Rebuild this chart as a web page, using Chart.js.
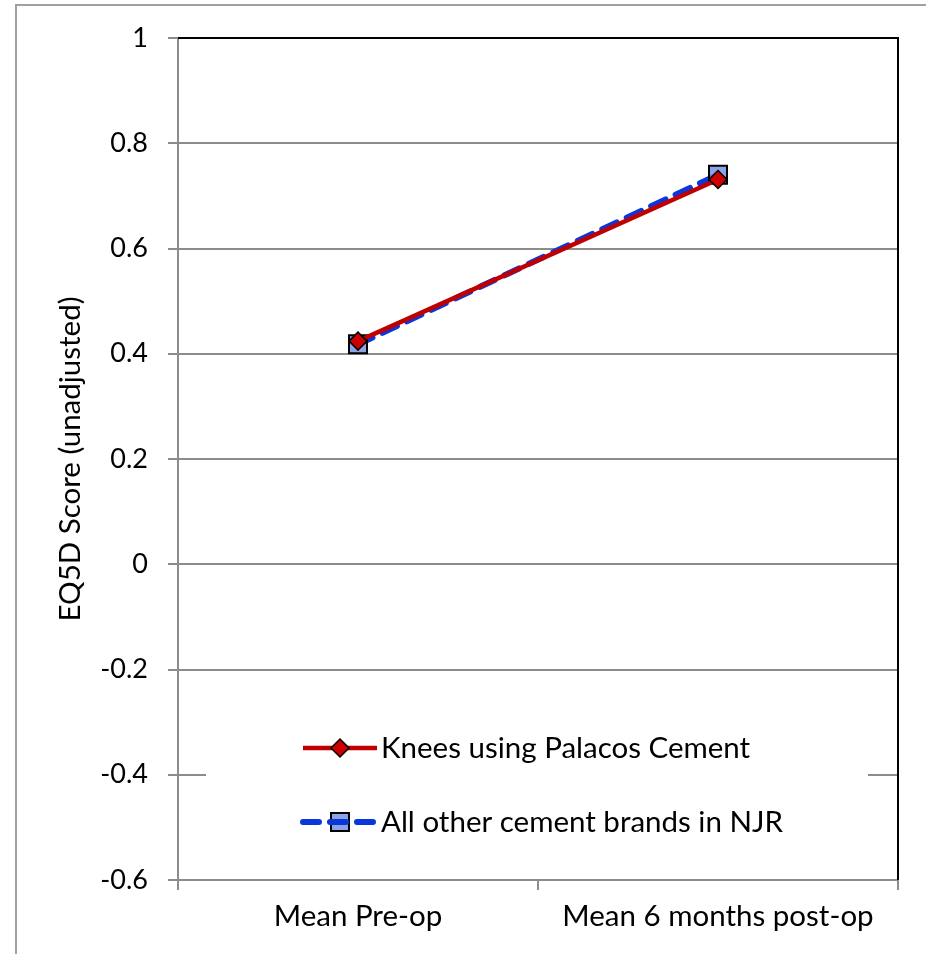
<!DOCTYPE html>
<html>
<head>
<meta charset="utf-8">
<script src="https://cdn.jsdelivr.net/npm/chart.js@4.4.1/dist/chart.umd.min.js"></script>
<style>
  html, body { margin: 0; padding: 0; background: #fff; }
  #wrap { width: 926px; height: 954px; }
</style>
</head>
<body>
<div id="wrap"><canvas id="chart" width="926" height="954"></canvas></div>
<script>
// chart data
const categories = ["Mean Pre-op", "Mean 6 months post-op"];
const palacosScores = [0.424, 0.731];
const otherScores = [0.418, 0.740];
const seriesNames = ["Knees using Palacos Cement", "All other cement brands in NJR"];
const yTicks = [-0.6, -0.4, -0.2, 0, 0.2, 0.4, 0.6, 0.8, 1];

const FONT = "Lato, sans-serif";
const FS = 29.5;   // labels, legend, title
const TICK_FS = 27; // numeric tick labels

// ============================
// frame + plot border
// ============================
const framePlugin = {
  id: "frame",
  beforeDraw(chart) {
    const ctx = chart.ctx;
    ctx.save();
    ctx.strokeStyle = "#a0a0a0";
    ctx.lineWidth = 2;
    ctx.strokeRect(16, 5, 1000, 1000);
    ctx.restore();
  },
  afterDatasetsDraw(chart) {
    const ctx = chart.ctx;
    const a = chart.chartArea;
    ctx.save();
    ctx.strokeStyle = "#000";
    ctx.lineWidth = 2;
    ctx.beginPath();
    ctx.moveTo(a.left, a.top);
    ctx.lineTo(a.right, a.top);
    ctx.lineTo(a.right, a.bottom);
    ctx.stroke();
    ctx.restore();
  }
};

// marker path helper for the legend
function markerPath(ctx, ds, cx, y) {
  ctx.beginPath();
  if (ds.pointStyle === "rectRot") {
    const r = ds.pointRadius;
    ctx.moveTo(cx - r, y);
    ctx.lineTo(cx, y - r);
    ctx.lineTo(cx + r, y);
    ctx.lineTo(cx, y + r);
    ctx.closePath();
  } else {
    const s = Math.SQRT1_2 * ds.pointRadius;
    ctx.rect(cx - s, y - s, 2 * s, 2 * s);
  }
}

// ============================
// legend inside plot
// ============================
const insideLegend = {
  id: "insideLegend",
  afterDatasetsDraw(chart) {
    const ctx = chart.ctx;
    ctx.save();
    ctx.fillStyle = "#fff";
    ctx.fillRect(206, 705, 662, 150);
    const x0 = 303, rows = [748, 822];
    chart.data.datasets.forEach((ds, i) => {
      const y = rows[i];
      const cx = x0 + 37;
      const diamond = ds.pointStyle === "rectRot";

      const drawMarker = () => {
        ctx.save();
        ctx.fillStyle = ds.pointBackgroundColor;
        ctx.strokeStyle = ds.pointBorderColor;
        ctx.lineWidth = ds.pointBorderWidth;
        markerPath(ctx, ds, cx, y);
        ctx.fill();
        ctx.stroke();
        ctx.restore();
      };

      // square sits under its dashed line, diamond on top of its line
      if (!diamond) drawMarker();

      ctx.save();
      ctx.strokeStyle = ds.borderColor;
      ctx.lineWidth = ds.borderWidth;
      ctx.lineCap = ds.borderDash ? "round" : "butt";
      ctx.setLineDash(ds.borderDash || []);
      ctx.beginPath();
      ctx.moveTo(x0, y);
      ctx.lineTo(x0 + 74, y);
      ctx.stroke();
      ctx.restore();

      if (diamond) drawMarker();

      ctx.fillStyle = "#000";
      ctx.font = FS + "px " + FONT;
      ctx.textBaseline = "middle";
      ctx.fillText(ds.label, x0 + 78, y);
    });
    ctx.restore();
  }
};

new Chart(document.getElementById("chart"), {
  type: "line",
  data: {
    labels: categories,
    datasets: [
      {
        label: seriesNames[0],
        data: palacosScores,
        borderColor: "#c00000",
        borderWidth: 4.5,
        pointStyle: "rectRot",
        pointRadius: 9,
        pointBackgroundColor: "#cc0000",
        pointBorderColor: "#000",
        pointBorderWidth: 1.5,
        tension: 0
      },
      {
        label: seriesNames[1],
        data: otherScores,
        borderColor: "#0a37dc",
        borderWidth: 6,
        borderDash: [16, 11],
        borderCapStyle: "round",
        pointStyle: "rect",
        pointRadius: 12.7,
        pointBackgroundColor: "rgba(110,140,225,0.8)",
        pointBorderColor: "#000",
        pointBorderWidth: 2,
        tension: 0
      }
    ]
  },
  options: {
    responsive: false,
    animation: false,
    layout: { padding: { left: 0, top: 38, right: 28, bottom: 0 } },
    plugins: { legend: { display: false }, tooltip: { enabled: false } },
    scales: {
      x: {
        type: "category",
        offset: true,
        afterFit(scale) { scale.height = 74; },
        grid: {
          offset: true,
          drawOnChartArea: false,
          drawTicks: true,
          tickLength: 10,
          color: "#8c8c8c",
          lineWidth: 2
        },
        border: { color: "#8c8c8c", width: 2 },
        ticks: { color: "#000", font: { family: FONT, size: FS }, padding: 9, maxRotation: 0 }
      },
      y: {
        min: -0.6,
        max: 1,
        afterFit(scale) { scale.width = 178; },
        afterBuildTicks(scale) { scale.ticks = yTicks.map(v => ({ value: v })); },
        grid: {
          color: (c) => (c.tick && c.tick.value === 1 ? "#000" : "#8c8c8c"),
          lineWidth: 2,
          tickLength: 10,
          tickColor: "#8c8c8c"
        },
        border: { color: "#8c8c8c", width: 2 },
        ticks: {
          color: "#000",
          font: { family: FONT, size: TICK_FS },
          padding: 20,
          callback: (v) => String(Math.round(v * 10) / 10)
        },
        title: {
          display: true,
          text: "EQ5D Score (unadjusted)",
          color: "#000",
          font: { family: FONT, size: FS },
          padding: { top: 53, bottom: 0 }
        }
      }
    }
  },
  plugins: [framePlugin, insideLegend]
});
</script>
</body>
</html>
